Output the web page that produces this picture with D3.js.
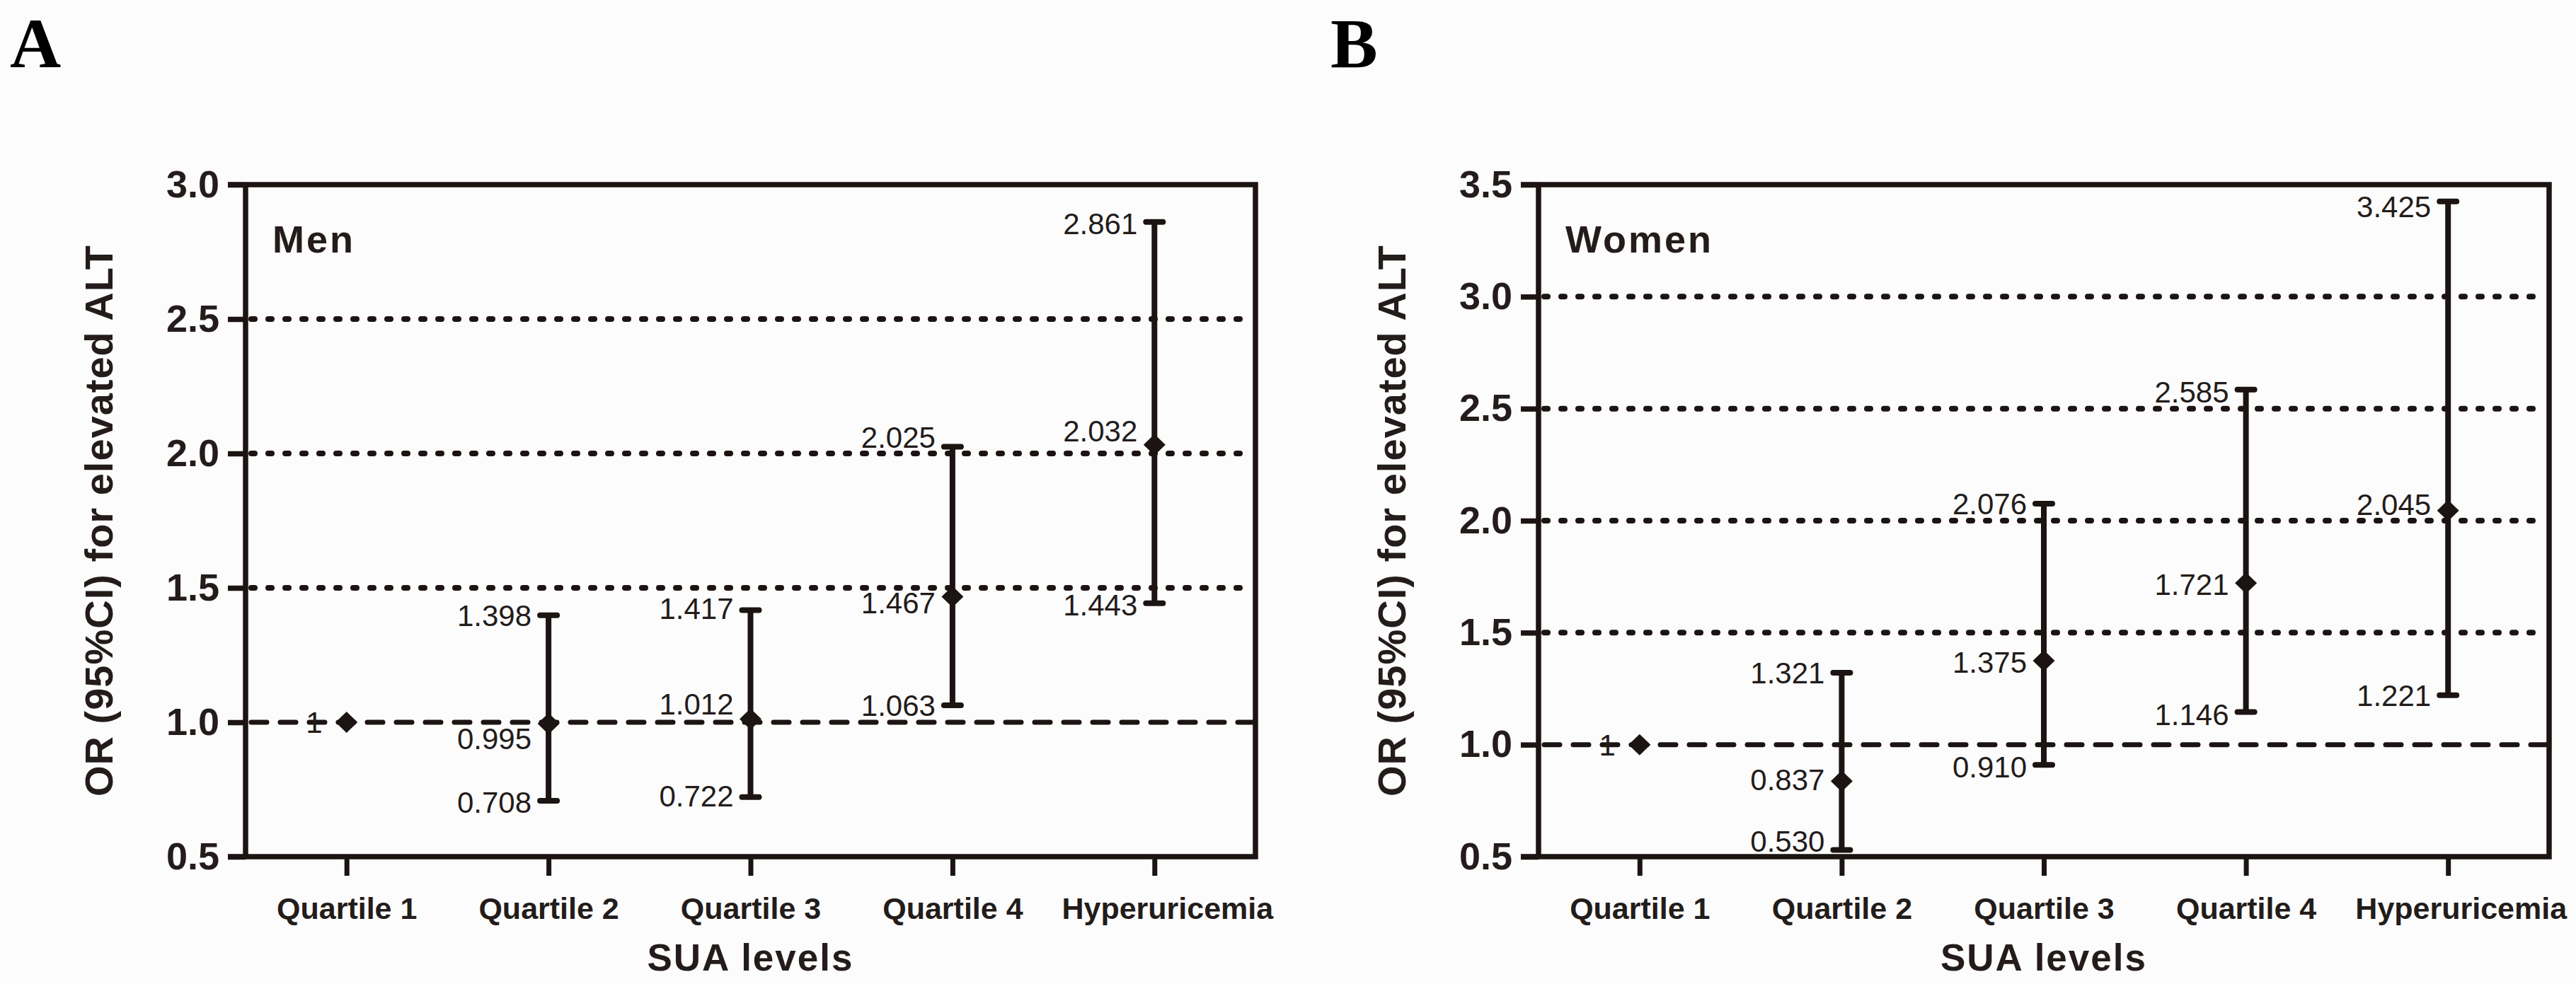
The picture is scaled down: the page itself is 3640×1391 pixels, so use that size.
<!DOCTYPE html>
<html>
<head>
<meta charset="utf-8">
<script src="https://cdn.jsdelivr.net/npm/d3@7/dist/d3.min.js"></script>
<style>
  html, body { margin: 0; padding: 0; background: #fcfcfc; }
  svg { display: block; }
</style>
</head>
<body>
<svg id="chart" width="3640" height="1391"></svg>
<script>
/* data */
const categories = ["Quartile 1", "Quartile 2", "Quartile 3", "Quartile 4", "Hyperuricemia"];

const menOR    = [1, 0.995, 1.012, 1.467, 2.032];
const menLow   = [null, 0.708, 0.722, 1.063, 1.443];
const menHigh  = [null, 1.398, 1.417, 2.025, 2.861];
const menTicks = [0.5, 1.0, 1.5, 2.0, 2.5, 3.0];

const womenOR    = [1, 0.837, 1.375, 1.721, 2.045];
const womenLow   = [null, 0.530, 0.910, 1.146, 1.221];
const womenHigh  = [null, 1.321, 2.076, 2.585, 3.425];
const womenTicks = [0.5, 1.0, 1.5, 2.0, 2.5, 3.0, 3.5];

const yTitle = "OR (95%CI) for elevated ALT";
const xTitle = "SUA levels";

/* look */
const ink      = "#1c1412";
const textInk  = "#231c1a";
const plotTop  = 261,
      plotBot  = 1211,
      lineW    = 7.5;

/* label nudges [dx, dy] for [low, mean, high] per category (hand placed in the original) */
const nudgeMen = [
  [[0,0], [-10,0], [0,0]],
  [[0,2], [0,21], [0,0]],
  [[0,-2], [0,-22], [0,-3]],
  [[0,0], [0,8], [0,-14]],
  [[0,2], [0,-20], [0,2]]
];
const nudgeWomen = [
  [[0,0], [-10,0], [0,0]],
  [[0,-13], [0,-2], [0,0]],
  [[0,3], [0,2], [0,0]],
  [[0,3], [0,2], [0,3]],
  [[0,0], [0,-9], [0,7]]
];

const panels = [
  { letter: "A", letterX: 14,   name: "Men",   left: 347,  right: 1774,
    or: menOR, low: menLow, high: menHigh, ticks: menTicks, nudge: nudgeMen },
  { letter: "B", letterX: 1880, name: "Women", left: 2174, right: 3602,
    or: womenOR, low: womenLow, high: womenHigh, ticks: womenTicks, nudge: nudgeWomen }
];

const svg = d3.select("#chart");
svg.append("rect").attr("width", 3640).attr("height", 1391).attr("fill", "#fcfcfc");

const fmt = d3.format(".3f");
const sans = "Liberation Sans, Arial, sans-serif";

panels.forEach(p => {
  const g = svg.append("g");

  const x = d3.scalePoint()
    .domain(categories)
    .range([p.left, p.right])
    .padding(0.5);

  const y = d3.scaleLinear()
    .domain([d3.min(p.ticks), d3.max(p.ticks)])
    .range([plotBot, plotTop]);

  // grid lines: dotted, the reference line at 1 dashed
  const inner = p.ticks.filter(t => t !== d3.min(p.ticks) && t !== d3.max(p.ticks));
  g.selectAll(".grid")
    .data(inner)
    .enter().append("line")
      .attr("x1", p.left + 8)
      .attr("x2", d => d === 1 ? p.right : p.right - 14)
      .attr("y1", d => y(d))
      .attr("y2", d => y(d))
      .attr("stroke", ink)
      .attr("stroke-width", d => d === 1 ? 7 : 8)
      .attr("stroke-linecap", "round")
      .attr("stroke-dasharray", d => d === 1 ? "22 19" : "5 19");

  // y axis
  const yAxis = g.append("g")
    .attr("transform", `translate(${p.left},0)`)
    .call(d3.axisLeft(y).tickValues(p.ticks).tickSize(25).tickPadding(12).tickFormat(d3.format(".1f")));
  yAxis.select(".domain").remove();
  yAxis.selectAll(".tick line").attr("stroke", ink).attr("stroke-width", lineW);
  yAxis.selectAll(".tick text")
    .attr("fill", textInk)
    .attr("font-family", sans)
    .attr("font-weight", "bold")
    .attr("font-size", 54);

  // x axis
  const xAxis = g.append("g")
    .attr("transform", `translate(0,${plotBot})`)
    .call(d3.axisBottom(x).tickSize(27).tickPadding(30));
  xAxis.select(".domain").remove();
  xAxis.selectAll(".tick line").attr("stroke", ink).attr("stroke-width", 7);
  xAxis.selectAll(".tick text")
    .attr("fill", textInk)
    .attr("font-family", sans)
    .attr("font-weight", "bold")
    .attr("font-size", 43)
    .attr("dx", (d, i) => i === categories.length - 1 ? 18 : 0);

  // frame
  g.append("path")
    .attr("d", `M${p.left},${plotTop}V${plotBot}M${p.left - 25},${plotBot}H${p.right}V${plotTop}H${p.left - 25}`)
    .attr("fill", "none")
    .attr("stroke", ink)
    .attr("stroke-width", lineW)
    .attr("stroke-linejoin", "miter");

  // rows
  const rows = categories.map((c, i) => ({
    cat: c, i: i, or: p.or[i], low: p.low[i], high: p.high[i]
  }));
  const withCI = rows.filter(r => r.low !== null);

  // error bars
  g.selectAll(".bar")
    .data(withCI)
    .enter().append("line")
      .attr("x1", d => x(d.cat)).attr("x2", d => x(d.cat))
      .attr("y1", d => y(d.low)).attr("y2", d => y(d.high))
      .attr("stroke", ink).attr("stroke-width", 8);

  ["low", "high"].forEach(k => {
    g.selectAll(".cap-" + k)
      .data(withCI)
      .enter().append("line")
        .attr("x1", d => x(d.cat) - 12).attr("x2", d => x(d.cat) + 12)
        .attr("y1", d => y(d[k])).attr("y2", d => y(d[k]))
        .attr("stroke", ink).attr("stroke-width", 8)
        .attr("stroke-linecap", "round");
  });

  // diamonds
  g.selectAll(".pt")
    .data(rows)
    .enter().append("path")
      .attr("d", d => {
        const cx = x(d.cat), cy = y(d.or), w = 15.5, h = 15;
        const pth = d3.path();
        pth.moveTo(cx, cy - h);
        pth.lineTo(cx + w, cy);
        pth.lineTo(cx, cy + h);
        pth.lineTo(cx - w, cy);
        pth.closePath();
        return pth.toString();
      })
      .attr("fill", ink);

  // value labels
  const labels = [];
  rows.forEach(r => {
    const n = p.nudge[r.i];
    if (r.low !== null) labels.push({ cat: r.cat, v: r.low, txt: fmt(r.low), n: n[0] });
    labels.push({ cat: r.cat, v: r.or, txt: r.low === null ? String(r.or) : fmt(r.or), n: n[1] });
    if (r.high !== null) labels.push({ cat: r.cat, v: r.high, txt: fmt(r.high), n: n[2] });
  });

  g.selectAll(".val")
    .data(labels)
    .enter().append("text")
      .attr("x", d => x(d.cat) - 24 + d.n[0])
      .attr("y", d => y(d.v) + d.n[1])
      .attr("dy", "0.36em")
      .attr("text-anchor", "end")
      .attr("font-family", sans)
      .attr("font-size", 42)
      .attr("fill", textInk)
      .text(d => d.txt);

  // panel name inside plot
  g.append("text")
    .attr("x", p.left + 38)
    .attr("y", 357)
    .attr("font-family", sans)
    .attr("font-weight", "bold")
    .attr("font-size", 54)
    .attr("letter-spacing", 3)
    .attr("fill", textInk)
    .text(p.name);

  // axis titles
  g.append("text")
    .attr("transform", `translate(${p.left - 188},${(plotTop + plotBot) / 2}) rotate(-90)`)
    .attr("text-anchor", "middle")
    .attr("font-family", sans)
    .attr("font-weight", "bold")
    .attr("font-size", 56)
    .attr("letter-spacing", 1)
    .attr("fill", textInk)
    .text(yTitle);

  g.append("text")
    .attr("x", (p.left + p.right) / 2)
    .attr("y", 1372)
    .attr("text-anchor", "middle")
    .attr("font-family", sans)
    .attr("font-weight", "bold")
    .attr("font-size", 53)
    .attr("letter-spacing", 2)
    .attr("fill", textInk)
    .text(xTitle);

  // panel letter
  g.append("text")
    .attr("x", p.letterX)
    .attr("y", 95)
    .attr("font-family", "Liberation Serif, Times New Roman, serif")
    .attr("font-weight", "bold")
    .attr("font-size", 100)
    .attr("fill", "#000")
    .text(p.letter);
});
</script>
</body>
</html>
